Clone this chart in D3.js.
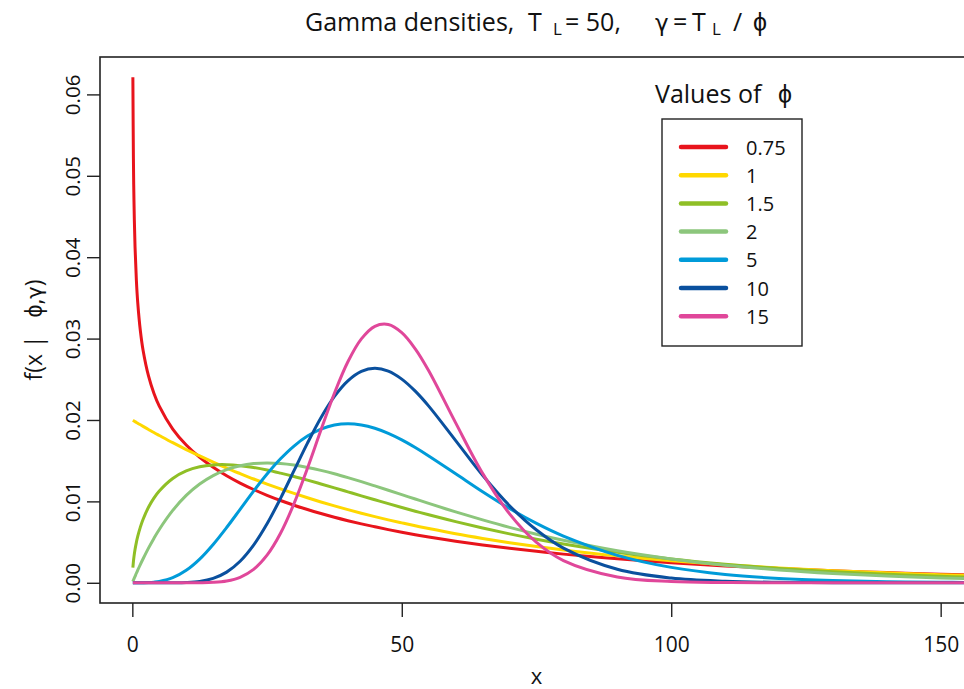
<!doctype html>
<meta charset="utf-8">

<style>
body {
  margin: 0;
  background: #fff;
}
svg {
  font-family: "Open Sans", sans-serif;
  fill: #111;
}
.curve {
  fill: none;
  stroke-width: 3;
  stroke-linejoin: round;
}
.frame {
  fill: none;
  stroke: #222;
  stroke-width: 1.6;
}
.axis line {
  stroke: #222;
  stroke-width: 1.4;
}
.axis text {
  fill: #111;
}
.greek {
  font-family: "DejaVu Sans", sans-serif;
}
</style>

<svg id="chart" width="964" height="689"></svg>

<script src="https://d3js.org/d3.v7.min.js"></script>

<script>
  // x grid the densities were read at
  let xs = [0.1, 0.2, 0.3, 0.5, 0.75, 1, 1.5, 2, 3, 4,
            5, 7.5, 10, 12.5, 15, 17.5, 20, 22.5, 25, 27.5,
            30, 32.5, 35, 37.5, 40, 42.5, 45, 47.5, 50, 52.5,
            55, 60, 65, 70, 75, 80, 90, 100, 110, 120,
            130, 140, 150, 156];

  // density values per phi
  let phi075 = [0.06211, 0.05215, 0.04705, 0.04128, 0.03717, 0.03446, 0.03090, 0.02854, 0.02541, 0.02329,
                0.02170, 0.01889, 0.01693, 0.01542, 0.01419, 0.01315, 0.01225, 0.01146, 0.01075, 0.01011,
                0.00953, 0.00900, 0.00851, 0.00805, 0.00763, 0.00724, 0.00688, 0.00653, 0.00621, 0.00591,
                0.00563, 0.00511, 0.00465, 0.00423, 0.00386, 0.00352, 0.00294, 0.00247, 0.00207, 0.00175,
                0.00147, 0.00125, 0.00105, 0.00095];
  let phi1 = [0.01996, 0.01992, 0.01988, 0.01980, 0.01970, 0.01960, 0.01941, 0.01922, 0.01884, 0.01846,
              0.01810, 0.01721, 0.01637, 0.01558, 0.01482, 0.01409, 0.01341, 0.01275, 0.01213, 0.01154,
              0.01098, 0.01044, 0.00993, 0.00945, 0.00899, 0.00855, 0.00813, 0.00773, 0.00736, 0.00700,
              0.00666, 0.00602, 0.00545, 0.00493, 0.00446, 0.00404, 0.00331, 0.00271, 0.00222, 0.00181,
              0.00149, 0.00122, 0.00100, 0.00088];
  let phi15 = [0.00185, 0.00261, 0.00318, 0.00408, 0.00497, 0.00569, 0.00687, 0.00781, 0.00928, 0.01040,
               0.01128, 0.01282, 0.01374, 0.01425, 0.01448, 0.01451, 0.01439, 0.01416, 0.01385, 0.01347,
               0.01306, 0.01261, 0.01214, 0.01166, 0.01117, 0.01068, 0.01020, 0.00972, 0.00925, 0.00879,
               0.00835, 0.00751, 0.00673, 0.00601, 0.00535, 0.00476, 0.00374, 0.00292, 0.00227, 0.00176,
               0.00135, 0.00104, 0.00080, 0.00068];
  let phi2 = [0.00016, 0.00032, 0.00047, 0.00078, 0.00117, 0.00154, 0.00226, 0.00295, 0.00426, 0.00545,
              0.00655, 0.00889, 0.01073, 0.01213, 0.01317, 0.01391, 0.01438, 0.01464, 0.01472, 0.01465,
              0.01446, 0.01417, 0.01381, 0.01339, 0.01292, 0.01242, 0.01190, 0.01137, 0.01083, 0.01029,
              0.00975, 0.00871, 0.00773, 0.00681, 0.00597, 0.00522, 0.00393, 0.00293, 0.00216, 0.00158,
              0.00115, 0.00083, 0.00060, 0.00049];
  let phi5 = [0, 0, 0, 0, 0, 0, 0.000002, 0.000006, 0.000025, 0.000072,
              0.00016, 0.00062, 0.00153, 0.00291, 0.00471, 0.00679, 0.00902, 0.01126, 0.01336, 0.01523,
              0.01680, 0.01802, 0.01888, 0.01938, 0.01954, 0.01939, 0.01898, 0.01835, 0.01755, 0.01661,
              0.01558, 0.01339, 0.01118, 0.00912, 0.00729, 0.00573, 0.00337, 0.00189, 0.00102, 0.00053,
              0.00027, 0.00013, 0.00006, 0.00004];
  let phi10 = [0, 0, 0, 0, 0, 0, 0, 0, 0, 0,
               0.0000002, 0.000005, 0.000038, 0.00017, 0.00054, 0.00131, 0.00265, 0.00463, 0.00725, 0.01037,
               0.01377, 0.01716, 0.02028, 0.02289, 0.02481, 0.02597, 0.02635, 0.02600, 0.02502, 0.02354,
               0.02170, 0.01747, 0.01321, 0.00947, 0.00648, 0.00426, 0.00166, 0.00058, 0.00019, 0.000055,
               0.000015, 0.000004, 0.000001, 0];
  let phi15s = [0, 0, 0, 0, 0, 0, 0, 0, 0, 0,
                0, 0, 0.000001, 0.000009, 0.000053, 0.00022, 0.00067, 0.00164, 0.00339, 0.00608,
                0.00972, 0.01407, 0.01876, 0.02328, 0.02715, 0.02996, 0.03151, 0.03173, 0.03073, 0.02874,
                0.02604, 0.01964, 0.01344, 0.00847, 0.00496, 0.00273, 0.00071, 0.00015, 0.00003, 0.000005,
                0, 0, 0, 0];

  let phiLabels = ["0.75", "1", "1.5", "2", "5", "10", "15"];
  let colours = ["#e8141c", "#ffd800", "#8fbf26", "#8cc67c", "#009bd9", "#0a509e", "#e0479a"];

  let xTicks = [0, 50, 100, 150];
  let yTicks = [0, 0.01, 0.02, 0.03, 0.04, 0.05, 0.06];

  let series = [phi075, phi1, phi15, phi2, phi5, phi10, phi15s].map((vals, i) => ({
    label: phiLabels[i],
    colour: colours[i],
    points: xs.map((x, j) => [x, vals[j]])
  }));

  //
  // scales, R style 4% padding
  //
  let margin = {top: 57, left: 100, bottom: 86, right: -9};
  let W = 964, H = 689;
  let xlim = [0, 150];
  let xpad = 0.04 * (xlim[1] - xlim[0]);
  let ymax = d3.max(series, s => d3.max(s.points, p => p[1]));
  let ypad = 0.04 * ymax;

  let x = d3.scaleLinear()
    .domain([xlim[0] - xpad, xlim[1] + xpad])
    .range([margin.left, W - margin.right]);
  let y = d3.scaleLinear()
    .domain([-ypad, ymax + ypad])
    .range([H - margin.bottom, margin.top]);

  let svg = d3.select("#chart");

  svg.append("clipPath")
    .attr("id", "plotclip")
    .append("rect")
    .attr("x", x.range()[0])
    .attr("y", y.range()[1])
    .attr("width", x.range()[1] - x.range()[0])
    .attr("height", y.range()[0] - y.range()[1]);

  //
  // curves
  //
  let line = d3.line()
    .x(d => x(d[0]))
    .y(d => y(d[1]))
    .curve(d3.curveCatmullRom.alpha(0.5));

  svg.append("g")
    .attr("clip-path", "url(#plotclip)")
    .selectAll("path")
    .data(series)
    .enter()
    .append("path")
    .attr("class", "curve")
    .attr("stroke", d => d.colour)
    .attr("d", d => line(d.points));

  // frame
  svg.append("rect")
    .attr("class", "frame")
    .attr("x", x.range()[0])
    .attr("y", y.range()[1])
    .attr("width", x.range()[1] - x.range()[0])
    .attr("height", y.range()[0] - y.range()[1]);

  //
  // axes
  //
  let xAxis = d3.axisBottom(x)
    .tickValues(xTicks)
    .tickSize(14)
    .tickPadding(20);

  svg.append("g")
    .attr("class", "axis")
    .attr("transform", "translate(0," + y.range()[0] + ")")
    .call(xAxis)
    .call(g => g.select(".domain").remove())
    .selectAll("text")
    .attr("font-size", 21)
    .attr("font-family", "Open Sans");

  let yAxis = d3.axisLeft(y)
    .tickValues(yTicks)
    .tickSize(13)
    .tickFormat(d3.format(".2f"));

  svg.append("g")
    .attr("class", "axis")
    .attr("transform", "translate(" + x.range()[0] + ",0)")
    .call(yAxis)
    .call(g => g.select(".domain").remove())
    .selectAll("text")
    .attr("x", null)
    .attr("dy", null)
    .attr("text-anchor", "middle")
    .attr("font-size", 20.5)
    .attr("font-family", "Open Sans")
    .attr("transform", "translate(-20,0) rotate(-90)");

  //
  // titles
  //
  let title = svg.append("text")
    .attr("y", 31)
    .attr("font-size", 25);
  title.append("tspan").attr("x", 305).text("Gamma densities,");
  title.append("tspan").attr("x", 528).text("T");
  title.append("tspan").attr("x", 553).attr("dy", 4).attr("font-size", 17).text("L");
  title.append("tspan").attr("x", 565).attr("dy", -4).text("= 50,");
  title.append("tspan").attr("x", 655).attr("class", "greek").attr("font-size", 23).text("γ");
  title.append("tspan").attr("x", 673).text("=");
  title.append("tspan").attr("x", 692).text("T");
  title.append("tspan").attr("x", 712).attr("dy", 4).attr("font-size", 17).text("L");
  title.append("tspan").attr("x", 733).attr("dy", -4).text("/");
  title.append("tspan").attr("x", 753).text("ϕ");

  svg.append("text")
    .attr("x", (x.range()[0] + x.range()[1]) / 2)
    .attr("y", 684)
    .attr("text-anchor", "middle")
    .attr("font-size", 22)
    .text("x");

  let ylab = svg.append("text")
    .attr("transform", "translate(42," + ((y.range()[0] + y.range()[1]) / 2) + ") rotate(-90)")
    .attr("text-anchor", "middle")
    .attr("font-size", 23)
    .style("white-space", "pre");
  ylab.append("tspan").text("f(x |   ϕ,");
  ylab.append("tspan").attr("class", "greek").attr("font-size", 21).text("γ");
  ylab.append("tspan").text(")");

  //
  // legend
  //
  let legend = svg.append("g");
  let legTitle = legend.append("text")
    .attr("y", 103)
    .attr("font-size", 25);
  legTitle.append("tspan").attr("x", 655).text("Values of");
  legTitle.append("tspan").attr("x", 778).text("ϕ");

  legend.append("rect")
    .attr("x", 662)
    .attr("y", 119)
    .attr("width", 140)
    .attr("height", 227)
    .attr("fill", "none")
    .attr("stroke", "#222")
    .attr("stroke-width", 1.4);

  let rows = legend.selectAll(".row")
    .data(series)
    .enter()
    .append("g")
    .attr("class", "row")
    .attr("transform", (d, i) => "translate(0," + (147 + i * 28.2) + ")");

  rows.append("line")
    .attr("x1", 681)
    .attr("x2", 726)
    .attr("stroke", d => d.colour)
    .attr("stroke-width", 4.5)
    .attr("stroke-linecap", "round");

  rows.append("text")
    .attr("x", 746)
    .attr("y", 7.5)
    .attr("font-size", 20)
    .text(d => d.label);
</script>
